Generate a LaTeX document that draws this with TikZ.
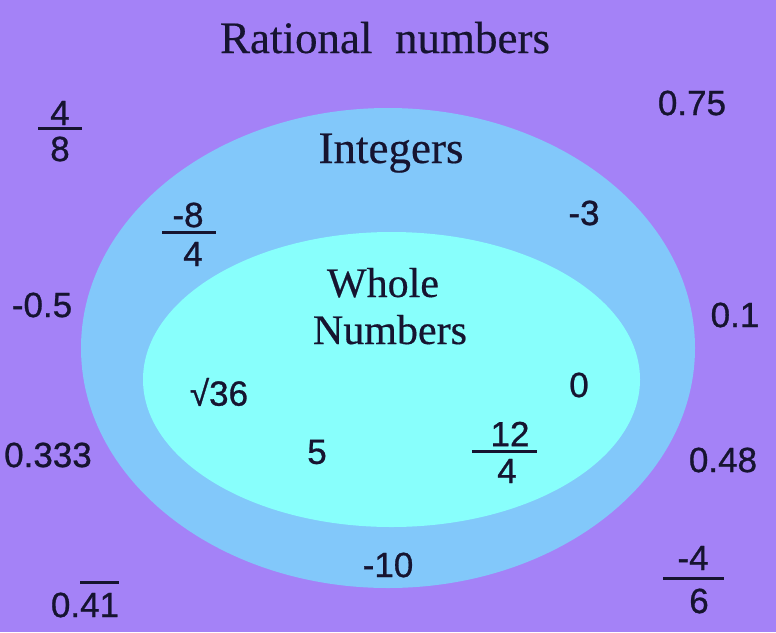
\documentclass[tikz,border=0pt]{standalone}
\usepackage{fontspec}
\setmainfont[FakeBold=0.4]{Liberation Serif}
\newfontfamily\numfont[FakeBold=0.8]{Liberation Sans}
\usepackage{tikz}

\definecolor{ratbg}{HTML}{A482F7}
\definecolor{intbg}{HTML}{82C8FA}
\definecolor{wholebg}{HTML}{88FFFC}
\definecolor{ink}{HTML}{161430}

\tikzset{
  title/.style={text=ink,font=\fontsize{22.5}{26}\selectfont,anchor=base,inner sep=0pt},
  num/.style={text=ink,font=\numfont\fontsize{17.5}{20}\selectfont,inner sep=0pt},
  bar/.style={draw=ink,line width=1.5pt}
}

\begin{document}
\begin{tikzpicture}[x=0.5pt,y=-0.5pt]
	\fill[ratbg] (0,0) rectangle (776,632);
	\useasboundingbox (0,0) rectangle (776,632);
	% the two sets
	\fill[intbg] (388,348) ellipse [x radius=307,y radius=240];
	\fill[wholebg] (391.5,379.5) ellipse [x radius=248.5,y radius=147.5];
	% set names
	\node[title] (rational) at (385,53) {Rational\ \ numbers};
	\node[title] (integers) at (391,163) {Integers};
	\node[title,font=\fontsize{21}{24}\selectfont] (whole) at (383,297) {Whole};
	\node[title,font=\fontsize{21}{24}\selectfont] (numbers) at (390,344) {Numbers};
	% rational only
	\node[num] (n48top) at (60,113) {4};
	\draw[bar] (38,128) -- (82,128);
	\node[num] (n48bot) at (60,149) {8};
	\node[num] (n075) at (692,103) {0.75};
	\node[num] (nm05) at (42,305) {-0.5};
	\node[num] (n01) at (735,315) {0.1};
	\node[num] (n0333) at (48,455) {0.333};
	\node[num] (n048) at (723,460) {0.48};
	\node[num] (nrep) at (85,605) {0.41};
	\draw[bar] (80,582) -- (119,582);
	\node[num] (n46top) at (693,558) {-4};
	\draw[bar] (663,578) -- (724,578);
	\node[num] (n46bot) at (699,601) {6};
	% integers
	\node[num] (n84top) at (188,215) {-8};
	\draw[bar] (162,232) -- (216,232);
	\node[num] (n84bot) at (193,254) {4};
	\node[num] (nm3) at (584,213) {-3};
	\node[num] (nm10) at (388,565) {-10};
	% whole numbers
	\node[num] (nsqrt) at (219,392) {√36};
	\node[num] (n0) at (579,385) {0};
	\node[num] (n5) at (317,452) {5};
	\node[num] (n124top) at (510,434) {12};
	\draw[bar] (472,451) -- (537,451);
	\node[num] (n124bot) at (507,471) {4};
\end{tikzpicture}
\end{document}
